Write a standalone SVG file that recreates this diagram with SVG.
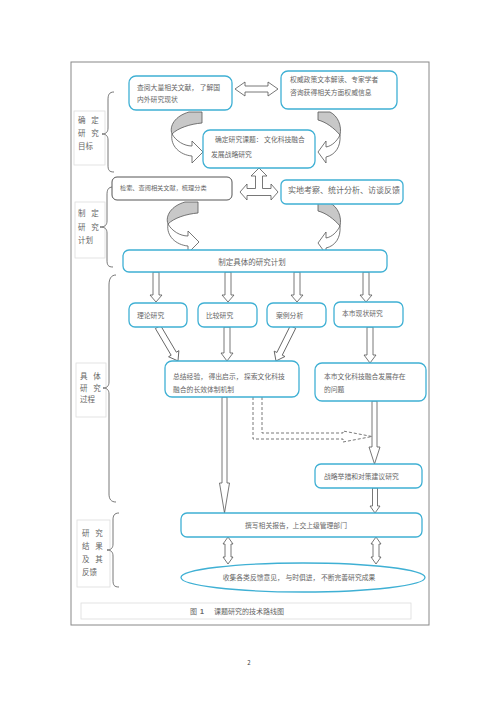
<svg xmlns="http://www.w3.org/2000/svg" width="500" height="707" viewBox="0 0 500 707">
<style>
text{font-family:"Noto Sans CJK SC","Noto Sans",sans-serif;fill:#666;font-size:6.8px}
.bx{fill:#fff;stroke:#3fb0d4;stroke-width:1.3}
.bk{fill:#fff;stroke:#555;stroke-width:1}
.lb{fill:#fff;stroke:#ddd;stroke-width:0.8}
.ar{fill:#fff;stroke:#555;stroke-width:0.8;stroke-linejoin:miter}
.gr{fill:#c8c8c8;stroke:#555;stroke-width:0.8}
.da{fill:none;stroke:#555;stroke-width:0.8;stroke-dasharray:3 2}
.br{fill:none;stroke:#555;stroke-width:0.8}
.lt{font-size:7.5px;word-spacing:4px}
</style>
<defs>
<g id="cl">
<path class="gr" d="M189,112 L202,112 L202,123 C190,124 178,128 172,134 C169,126 175,116 189,112 Z"/>
<path class="ar" d="M172,134 C170,146 180,155 192,156 L192,163 L203,152 L192,141 L192,146 C184,146 176,141 172,134 Z"/>
</g>
<g id="cr">
<path class="gr" d="M318,112 L330,112 C338,116 342,126 340,135 C334,128 326,122 318,120 Z"/>
<path class="ar" d="M340,135 C341,147 335,155 326,157 L326,163 L318,152 L326,141 L326,147 C332,146 337,141 340,135 Z"/>
</g>
</defs>
<rect x="0" y="0" width="500" height="707" fill="#fff"/>
<rect x="71" y="62" width="358" height="563" fill="none" stroke="#888" stroke-width="1"/>

<g id="label-1">
<rect class="lb" x="74" y="111" width="31" height="54"/>
<text class="lt" x="78" y="122.5">确 定</text>
<text class="lt" x="78" y="135.5">研 究</text>
<text class="lt" x="78" y="148.5">目标</text>
</g>
<g id="label-2">
<rect class="lb" x="75" y="202" width="30" height="56"/>
<text class="lt" x="78" y="215.5">制 定</text>
<text class="lt" x="78" y="229.5">研 究</text>
<text class="lt" x="78" y="242.5">计划</text>
</g>
<g id="label-3">
<rect class="lb" x="76" y="363" width="30" height="54"/>
<text class="lt" x="80" y="378.5">具 体</text>
<text class="lt" x="80" y="390.5">研 究</text>
<text class="lt" x="80" y="402">过程</text>
</g>
<g id="label-4">
<rect class="lb" x="77" y="520" width="33" height="67"/>
<text class="lt" x="82" y="535.5">研 究</text>
<text class="lt" x="82" y="548.5">结 果</text>
<text class="lt" x="82" y="562">及 其</text>
<text class="lt" x="82" y="575">反馈</text>
</g>

<g id="braces">
<path class="br" d="M114,92 C109,92 108,95 108,100 L108,128 C108,132 106,134 102,134 C106,134 108,136 108,140 L108,165 C108,170 109,172 114,172"/>
<path class="br" d="M113,187 C108,187 107,190 107,195 L107,221 C107,225 105,227 100,227 C105,227 107,229 107,233 L107,260 C107,265 108,267 113,267"/>
<path class="br" d="M116,275 C111,275 109,279 109,285 L109,382 C109,386 107,388 103,388 C107,388 109,390 109,394 L109,494 C109,499 111,502 116,502"/>
<path class="br" d="M119,513 C114,513 113,516 113,520 L113,544 C113,548 111,550 107,550 C111,550 113,552 113,556 L113,580 C113,585 114,587 119,587"/>
</g>

<g id="connectors">
<path class="ar" d="M235,89 L245,82 L245,86 L268,86 L268,82 L278,89 L268,96 L268,92 L245,92 L245,96 Z"/>
<use href="#cl"/>
<use href="#cr"/>
<path class="ar" d="M259,168 L267,176 L262.5,176 L262.5,188.5 L271,188.5 L271,184 L278,192 L271,200 L271,195.5 L247,195.5 L247,200 L240,192 L247,184 L247,188.5 L255.5,188.5 L255.5,176 L251,176 Z"/>
<use href="#cl" transform="translate(-4,90)"/>
<use href="#cr" transform="translate(0,91)"/>
<path class="ar" d="M153,272 V295 H150 L156,302 L162,295 H159 V272 Z"/>
<path class="ar" d="M225,272 V295 H222 L228,302 L234,295 H231 V272 Z"/>
<path class="ar" d="M294,272 V295 H291 L297,302 L303,295 H300 V272 Z"/>
<path class="ar" d="M363,272 V295 H360 L366,302 L372,295 H369 V272 Z"/>
<path class="ar" transform="translate(158,327) rotate(-30.5)" d="M-3,0 V31 H-6 L0,39.4 L6,31 H3 V0 Z"/>
<path class="ar" d="M224,327 V353 H221 L227,361 L233,353 H230 V327 Z"/>
<path class="ar" transform="translate(293,327) rotate(26.6)" d="M-3,0 V30 H-6 L0,38 L6,30 H3 V0 Z"/>
<path class="ar" d="M367,327 V355 H364 L370,363 L376,355 H373 V327 Z"/>
<path class="ar" d="M222,397 V483 H219.5 L224.5,513 L229.5,483 H227 V397 Z"/>
<path class="da" d="M253,397 V439 H343 V442 L372,436.5 L343,431 V433 H262 V397"/>
<path class="ar" d="M372,401 V447 H369 L374.5,464 L380,447 H377 V401 Z"/>
<path class="ar" d="M372.5,488 V506 H370 L375,513 L380,506 H377.5 V488 Z"/>
<path class="ar" d="M228,537 L233,544 H231 V557 H233 L228,564 L223,557 H225 V544 H223 Z"/>
<path class="ar" d="M376,537 L381,544 H379 V557 H381 L376,564 L371,557 H373 V544 H371 Z"/>
</g>

<g id="n1"><rect class="bx" x="129" y="76" width="103" height="34" rx="7"/>
<text x="137" y="89.5">查阅大量相关文献， 了解国</text>
<text x="137" y="101.5">内外研究现状</text></g>
<g id="n2"><rect class="bx" x="281" y="71" width="116" height="38" rx="7"/>
<text x="290" y="81.5">权威政策文本解读、专家学者</text>
<text x="290" y="94.5">咨询获得相关方面权威信息</text></g>
<g id="n3"><rect class="bx" x="203" y="130" width="112" height="38" rx="7"/>
<text x="215" y="141.5">确定研究课题： 文化科技融合</text>
<text x="211" y="156.5">发展战略研究</text></g>
<g id="n4"><rect class="bk" x="112" y="177" width="120" height="23" rx="5"/>
<text x="120" y="190" style="font-size:6.2px">检索、查阅相关文献，梳理分类</text></g>
<g id="n5"><rect class="bx" x="281" y="180" width="122" height="24" rx="5"/>
<text x="288" y="193" style="font-size:8px">实地考察、统计分析、访谈反馈</text></g>
<g id="n6"><rect class="bx" x="123" y="250" width="264" height="22" rx="6"/>
<text x="252" y="264.5" text-anchor="middle" style="font-size:7.5px">制定具体的研究计划</text></g>
<g id="n7"><rect class="bx" x="129" y="303" width="58" height="24" rx="6"/>
<text x="137" y="317.5">理论研究</text></g>
<g id="n8"><rect class="bx" x="198" y="303" width="59" height="24" rx="6"/>
<text x="206" y="317.5">比较研究</text></g>
<g id="n9"><rect class="bx" x="267" y="303" width="59" height="24" rx="6"/>
<text x="276" y="317.5">案例分析</text></g>
<g id="n10"><rect class="bx" x="334" y="302" width="69" height="25" rx="6"/>
<text x="342" y="315.5">本市现状研究</text></g>
<g id="n11"><rect class="bx" x="165" y="361" width="134" height="36" rx="7"/>
<text x="173" y="378.5">总结经验， 得出启示， 探索文化科技</text>
<text x="173" y="391.5">融合的长效体制机制</text></g>
<g id="n12"><rect class="bx" x="315" y="363" width="111" height="38" rx="7"/>
<text x="324" y="378.5">本市文化科技融合发展存在</text>
<text x="324" y="391.5">的问题</text></g>
<g id="n13"><rect class="bx" x="315" y="464" width="107" height="24" rx="6"/>
<text x="324" y="478.5">战略举措和对策建议研究</text></g>
<g id="n14"><rect class="bx" x="181" y="513" width="241" height="24" rx="6"/>
<text x="296" y="527.5" text-anchor="middle">撰写相关报告，上交上级管理部门</text></g>
<g id="n15"><ellipse class="bx" cx="303" cy="577.5" rx="122" ry="14.5"/>
<text x="299" y="580" text-anchor="middle">收集各类反馈意见， 与时俱进， 不断完善研究成果</text></g>

<g id="caption">
<rect x="81" y="603" width="330" height="16" fill="#fff" stroke="#ddd" stroke-width="0.8"/>
<text y="614" style="font-size:7px"><tspan x="190">图</tspan><tspan x="200" font-weight="bold" font-family="Liberation Sans, sans-serif">1</tspan><tspan x="214">课题研究的技术路线图</tspan></text>
</g>
<text x="249" y="665" text-anchor="middle" style="font-size:6px;fill:#444">2</text>
</svg>
